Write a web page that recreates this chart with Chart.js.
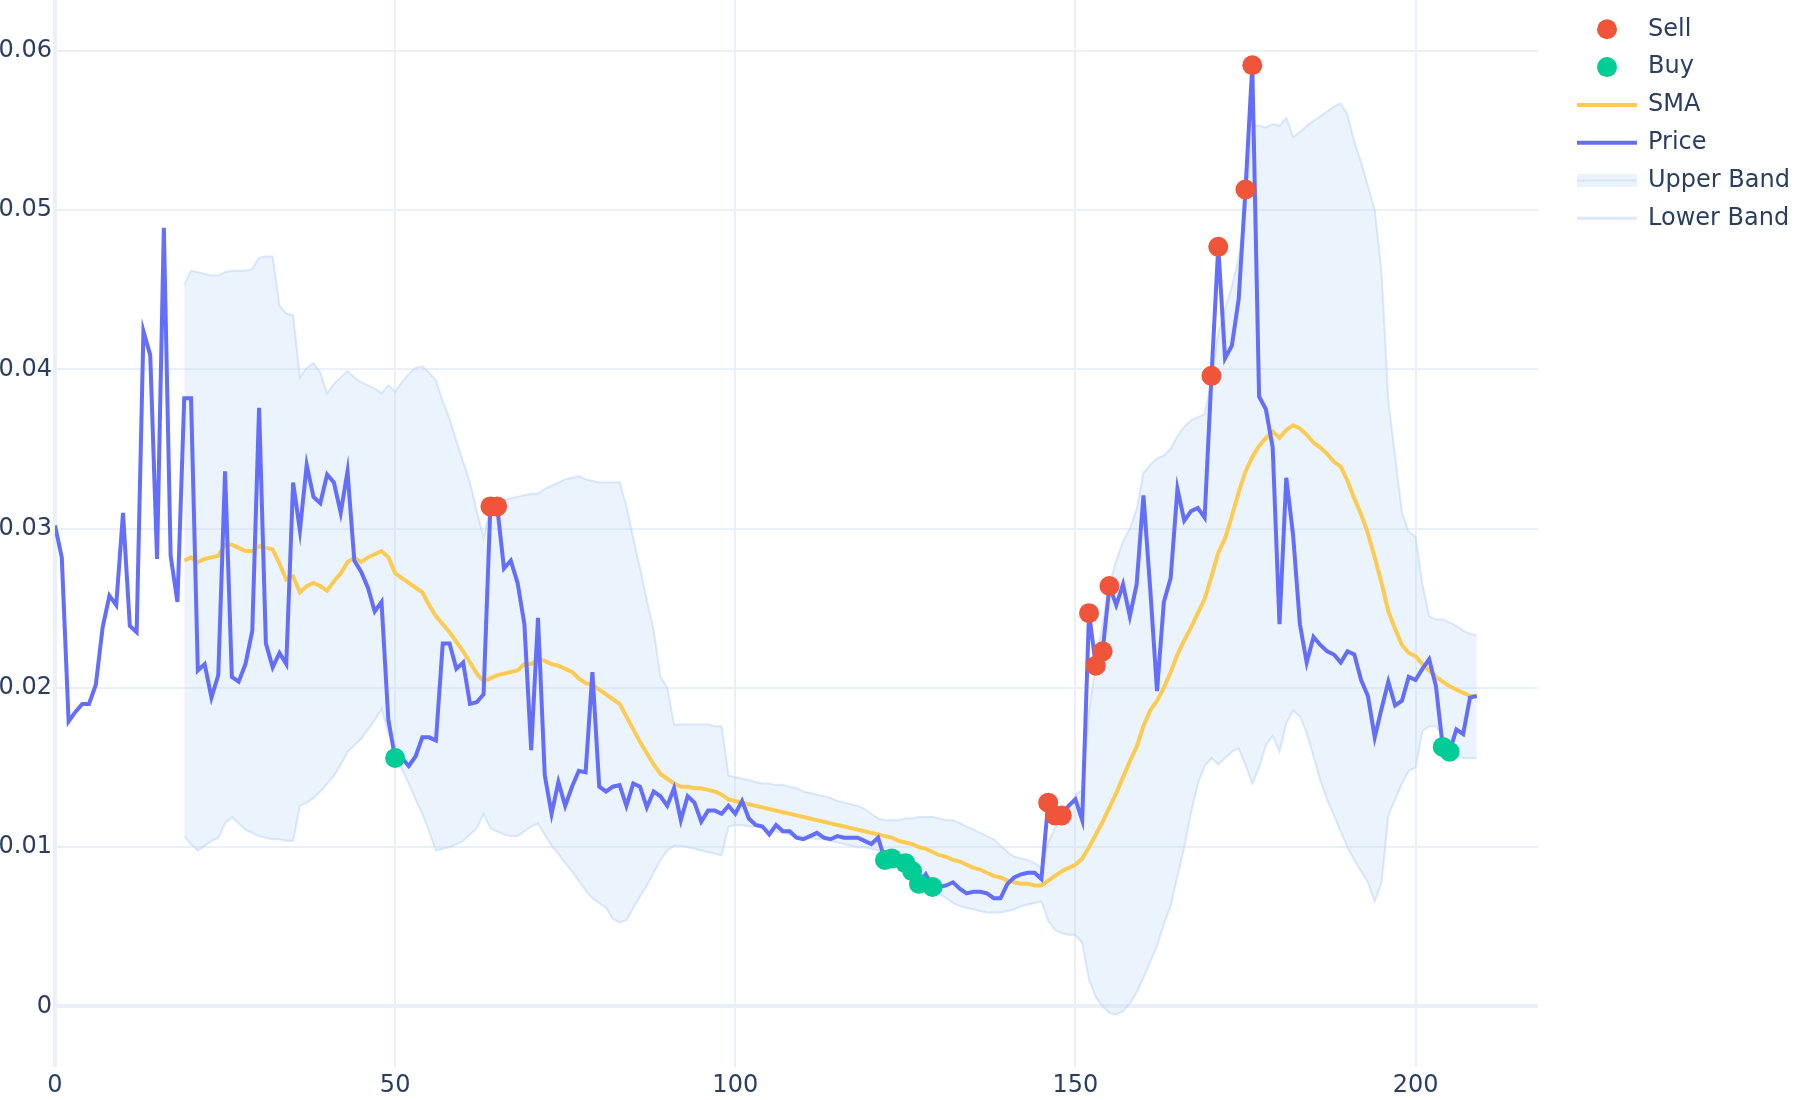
<!DOCTYPE html>
<html>
<head>
<meta charset="utf-8">
<title>Price, SMA and Bands</title>
<script src="https://cdn.jsdelivr.net/npm/chart.js@4.4.1/dist/chart.umd.min.js"></script>
<style>
  html, body { margin: 0; padding: 0; background: #ffffff; }
  #wrap { width: 1800px; height: 1100px; }
</style>
</head>
<body>
<div id="wrap"><canvas id="chart" width="1800" height="1100"></canvas></div>
<script>
// price, one value per step from step 0
const price = [
  0.0302, 0.0282, 0.0179, 0.0185, 0.0190, 0.0190, 0.0202, 0.0238, 0.0258, 0.0252,
  0.0310, 0.0239, 0.0235, 0.0424, 0.0409, 0.0281, 0.0489, 0.0283, 0.0254, 0.0382,
  0.0382, 0.0211, 0.0215, 0.0194, 0.0208, 0.0336, 0.0207, 0.0204, 0.0215, 0.0236,
  0.0376, 0.0228, 0.0213, 0.0222, 0.0215, 0.0329, 0.0299, 0.0340, 0.0320, 0.0316,
  0.0334, 0.0329, 0.0310, 0.0336, 0.0280, 0.0273, 0.0263, 0.0248, 0.0254, 0.0180,
  0.0156, 0.0156, 0.0151, 0.0157, 0.0169, 0.0169, 0.0167, 0.0228, 0.0228, 0.0212,
  0.0216, 0.0190, 0.0191, 0.0196, 0.0314, 0.0314, 0.0275, 0.0280, 0.0266, 0.0240,
  0.0161, 0.0244, 0.0145, 0.0121, 0.0141, 0.0126, 0.0138, 0.0148, 0.0147, 0.0210,
  0.0138, 0.0135, 0.0138, 0.0139, 0.0126, 0.0140, 0.0138, 0.0125, 0.0135, 0.0132,
  0.0126, 0.0137, 0.0117, 0.0132, 0.0128, 0.0116, 0.0123, 0.0123, 0.0121, 0.0126,
  0.0121, 0.0129, 0.0118, 0.0114, 0.0113, 0.0108, 0.0114, 0.0110, 0.0110, 0.0106,
  0.0105, 0.0107, 0.0109, 0.0106, 0.0105, 0.0107, 0.0106, 0.0106, 0.0106, 0.0104,
  0.0102, 0.0106, 0.0092, 0.0093, 0.0091, 0.0090, 0.0085, 0.0077, 0.0083, 0.0075,
  0.0075, 0.0076, 0.0078, 0.0074, 0.0071, 0.0072, 0.0072, 0.0071, 0.0068, 0.0068,
  0.0077, 0.0081, 0.0083, 0.0084, 0.0084, 0.0080, 0.0128, 0.0120, 0.0120, 0.0126,
  0.0130, 0.0117, 0.0247, 0.0214, 0.0223, 0.0264, 0.0252, 0.0265, 0.0245, 0.0265,
  0.0321, 0.0262, 0.0198, 0.0254, 0.0269, 0.0325, 0.0305, 0.0311, 0.0313, 0.0307,
  0.0396, 0.0477, 0.0407, 0.0415, 0.0444, 0.0513, 0.0591, 0.0383, 0.0375, 0.0351,
  0.0240, 0.0332, 0.0296, 0.0240, 0.0216, 0.0232, 0.0227, 0.0223, 0.0221, 0.0216,
  0.0223, 0.0221, 0.0205, 0.0195, 0.0169, 0.0187, 0.0204, 0.0189, 0.0192, 0.0207,
  0.0205, 0.0212, 0.0218, 0.0201, 0.0163, 0.0160, 0.0174, 0.0171, 0.0194, 0.0195
];

// moving average and bands begin at this step
const bandStart = 19;

const sma = [
  0.0280, 0.0282, 0.0279, 0.0281, 0.0282, 0.0283, 0.0290, 0.0290, 0.0288, 0.0286,
  0.0286, 0.0289, 0.0288, 0.0287, 0.0278, 0.0268, 0.0270, 0.0260, 0.0264, 0.0266,
  0.0264, 0.0261, 0.0267, 0.0272, 0.0279, 0.0282, 0.0279, 0.0282, 0.0284, 0.0286,
  0.0282, 0.0272, 0.0269, 0.0266, 0.0263, 0.0260, 0.0252, 0.0245, 0.0240, 0.0235,
  0.0229, 0.0223, 0.0216, 0.0209, 0.0204, 0.0206, 0.0208, 0.0209, 0.0210, 0.0211,
  0.0215, 0.0215, 0.0218, 0.0217, 0.0215, 0.0214, 0.0212, 0.0210, 0.0206, 0.0203,
  0.0202, 0.0199, 0.0196, 0.0193, 0.0190, 0.0182, 0.0174, 0.0166, 0.0159, 0.0152,
  0.0146, 0.0143, 0.0140, 0.0138, 0.0138, 0.0137, 0.0137, 0.0136, 0.0135, 0.0133,
  0.0130, 0.0129, 0.0128, 0.0127, 0.0126, 0.0125, 0.0124, 0.0123, 0.0122, 0.0121,
  0.0120, 0.0119, 0.0118, 0.0117, 0.0116, 0.0115, 0.0114, 0.0113, 0.0112, 0.0111,
  0.0110, 0.0109, 0.0108, 0.0107, 0.0106, 0.0104, 0.0103, 0.0102, 0.0100, 0.0099,
  0.0097, 0.0095, 0.0094, 0.0092, 0.0091, 0.0089, 0.0087, 0.0086, 0.0084, 0.0082,
  0.0081, 0.0079, 0.0078, 0.0077, 0.0077, 0.0076, 0.0076, 0.0079, 0.0082, 0.0085,
  0.0087, 0.0089, 0.0093, 0.0100, 0.0108, 0.0116, 0.0125, 0.0134, 0.0144, 0.0154,
  0.0163, 0.0176, 0.0186, 0.0192, 0.0200, 0.0210, 0.0221, 0.0230, 0.0238, 0.0247,
  0.0256, 0.0270, 0.0285, 0.0294, 0.0308, 0.0323, 0.0336, 0.0345, 0.0352, 0.0357,
  0.0361, 0.0357, 0.0362, 0.0365, 0.0363, 0.0359, 0.0354, 0.0351, 0.0347, 0.0342,
  0.0339, 0.0330, 0.0319, 0.0309, 0.0297, 0.0282, 0.0266, 0.0248, 0.0237, 0.0227,
  0.0222, 0.0220, 0.0215, 0.0211, 0.0207, 0.0204, 0.0201, 0.0199, 0.0197, 0.0195,
  0.0195
];

const upperBand = [
  0.0453, 0.0462, 0.0461, 0.0460, 0.0459, 0.0459, 0.0461, 0.0462, 0.0462, 0.0462,
  0.0463, 0.0470, 0.0471, 0.0471, 0.0440, 0.0435, 0.0434, 0.0395, 0.0401, 0.0404,
  0.0398, 0.0385, 0.0391, 0.0395, 0.0399, 0.0395, 0.0392, 0.0390, 0.0388, 0.0385,
  0.0390, 0.0386, 0.0392, 0.0397, 0.0401, 0.0402, 0.0398, 0.0393, 0.0380, 0.0369,
  0.0355, 0.0342, 0.0329, 0.0311, 0.0294, 0.0314, 0.0315, 0.0318, 0.0319, 0.0320,
  0.0321, 0.0322, 0.0322, 0.0325, 0.0327, 0.0329, 0.0331, 0.0332, 0.0333, 0.0331,
  0.0330, 0.0329, 0.0329, 0.0329, 0.0329, 0.0314, 0.0294, 0.0275, 0.0255, 0.0236,
  0.0207, 0.0200, 0.0177, 0.0177, 0.0177, 0.0177, 0.0177, 0.0177, 0.0176, 0.0176,
  0.0145, 0.0144, 0.0143, 0.0142, 0.0141, 0.0140, 0.0140, 0.0139, 0.0139, 0.0138,
  0.0137, 0.0135, 0.0134, 0.0133, 0.0132, 0.0131, 0.0129, 0.0128, 0.0127, 0.0126,
  0.0124, 0.0121, 0.0118, 0.0117, 0.0117, 0.0117, 0.0118, 0.0118, 0.0119, 0.0119,
  0.0119, 0.0118, 0.0117, 0.0117, 0.0115, 0.0113, 0.0111, 0.0109, 0.0107, 0.0105,
  0.0101, 0.0097, 0.0094, 0.0093, 0.0092, 0.0090, 0.0087, 0.0103, 0.0112, 0.0118,
  0.0125, 0.0133, 0.0136, 0.0185, 0.0215, 0.0240, 0.0265, 0.0280, 0.0292, 0.0300,
  0.0312, 0.0335, 0.0340, 0.0344, 0.0346, 0.0350, 0.0358, 0.0364, 0.0368, 0.0370,
  0.0372, 0.0393, 0.0423, 0.0438, 0.0452, 0.0470, 0.0500, 0.0553, 0.0553, 0.0552,
  0.0554, 0.0553, 0.0558, 0.0546, 0.0549, 0.0553, 0.0556, 0.0559, 0.0562, 0.0565,
  0.0567, 0.0560, 0.0543, 0.0530, 0.0515, 0.0500, 0.0461, 0.0380, 0.0345, 0.0310,
  0.0298, 0.0295, 0.0265, 0.0245, 0.0243, 0.0243, 0.0241, 0.0239, 0.0236, 0.0234,
  0.0233
];

const lowerBand = [
  0.0107, 0.0102, 0.0098, 0.0101, 0.0104, 0.0106, 0.0115, 0.0119, 0.0115, 0.0111,
  0.0109, 0.0107, 0.0106, 0.0105, 0.0105, 0.0104, 0.0104, 0.0126, 0.0128, 0.0131,
  0.0135, 0.0140, 0.0145, 0.0152, 0.0160, 0.0164, 0.0168, 0.0174, 0.0180, 0.0187,
  0.0172, 0.0157, 0.0149, 0.0140, 0.0130, 0.0121, 0.0110, 0.0098, 0.0099, 0.0100,
  0.0102, 0.0104, 0.0108, 0.0112, 0.0121, 0.0112, 0.0110, 0.0108, 0.0107, 0.0107,
  0.0110, 0.0113, 0.0115, 0.0108, 0.0101, 0.0096, 0.0090, 0.0085, 0.0079, 0.0073,
  0.0068, 0.0065, 0.0062, 0.0055, 0.0053, 0.0054, 0.0062, 0.0069, 0.0076, 0.0084,
  0.0092, 0.0098, 0.0101, 0.0101, 0.0100, 0.0099, 0.0098, 0.0097, 0.0096, 0.0095,
  0.0113, 0.0114, 0.0114, 0.0113, 0.0113, 0.0112, 0.0111, 0.0110, 0.0109, 0.0108,
  0.0107, 0.0107, 0.0106, 0.0105, 0.0105, 0.0104, 0.0103, 0.0102, 0.0101, 0.0100,
  0.0100, 0.0099, 0.0098, 0.0096, 0.0093, 0.0090, 0.0087, 0.0084, 0.0081, 0.0078,
  0.0074, 0.0071, 0.0068, 0.0065, 0.0063, 0.0062, 0.0061, 0.0060, 0.0059, 0.0059,
  0.0059, 0.0060, 0.0061, 0.0063, 0.0064, 0.0065, 0.0066, 0.0054, 0.0048, 0.0046,
  0.0045, 0.0045, 0.0040, 0.0017, 0.0006, 0.0000, -0.0004, -0.0005, -0.0003, 0.0002,
  0.0009, 0.0018, 0.0028, 0.0038, 0.0052, 0.0063, 0.0082, 0.0100, 0.0122, 0.0140,
  0.0151, 0.0156, 0.0152, 0.0156, 0.0160, 0.0162, 0.0152, 0.0140, 0.0150, 0.0164,
  0.0170, 0.0160, 0.0178, 0.0186, 0.0182, 0.0172, 0.0157, 0.0142, 0.0130, 0.0120,
  0.0110, 0.0100, 0.0092, 0.0085, 0.0078, 0.0066, 0.0078, 0.0120, 0.0130, 0.0140,
  0.0148, 0.0150, 0.0173, 0.0176, 0.0176, 0.0170, 0.0163, 0.0157, 0.0156, 0.0156,
  0.0156
];

// steps where a signal fired (marker sits on the price)
const sellSteps = [64, 65, 146, 147, 148, 152, 153, 154, 155, 170, 171, 175, 176];
const buySteps = [50, 122, 123, 125, 126, 127, 129, 204, 205];

const xTicks = [0, 50, 100, 150, 200];
const yTicks = [0, 0.01, 0.02, 0.03, 0.04, 0.05, 0.06];

const textColor = '#2a3f5f';
const gridColor = '#EBF0F8';
const bandFill = 'rgba(190, 215, 247, 0.30)';
const bandEdge = 'rgba(190, 215, 247, 0.55)';

Chart.defaults.font.family = "'DejaVu Sans', sans-serif";
Chart.defaults.font.size = 24;
Chart.defaults.color = textColor;

function series(values, start) {
  return values.map((v, i) => ({ x: start + i, y: v }));
}

function signals(steps) {
  return steps.map(s => ({ x: s, y: price[s] }));
}

// legend on the right, drawn by hand so it sits like the original
const sideLegend = {
  id: 'sideLegend',
  afterDraw(chart) {
    const ctx = chart.ctx;
    const x0 = 1577, x1 = 1637, tx = 1648;
    ctx.save();
    ctx.font = "24px 'DejaVu Sans', sans-serif";
    ctx.textBaseline = 'middle';
    chart.data.datasets.forEach((ds, i) => {
      const y = 29.3 + i * 37.8;
      if (ds.legendSymbol === 'dot') {
        ctx.fillStyle = ds.backgroundColor;
        ctx.beginPath();
        ctx.arc((x0 + x1) / 2, y, 10, 0, Math.PI * 2);
        ctx.fill();
      } else if (ds.legendSymbol === 'line') {
        ctx.strokeStyle = ds.borderColor;
        ctx.lineWidth = 4;
        ctx.beginPath();
        ctx.moveTo(x0, y);
        ctx.lineTo(x1, y);
        ctx.stroke();
      } else if (ds.legendSymbol === 'band') {
        ctx.fillStyle = ds.backgroundColor;
        ctx.fillRect(x0, y - 6.5, x1 - x0, 13);
        ctx.strokeStyle = ds.borderColor;
        ctx.lineWidth = 2;
        ctx.beginPath();
        ctx.moveTo(x0, y);
        ctx.lineTo(x1, y);
        ctx.stroke();
      } else {
        ctx.strokeStyle = ds.borderColor;
        ctx.lineWidth = 3;
        ctx.beginPath();
        ctx.moveTo(x0, y);
        ctx.lineTo(x1, y);
        ctx.stroke();
      }
      ctx.fillStyle = textColor;
      ctx.fillText(ds.label, tx, y);
    });
    ctx.restore();
  }
};

new Chart(document.getElementById('chart'), {
  type: 'line',
  data: {
    datasets: [
      {
        label: 'Sell', data: signals(sellSteps), showLine: false,
        backgroundColor: '#EF553B', borderColor: '#EF553B',
        pointRadius: 10, pointHoverRadius: 10, pointBorderWidth: 0,
        order: 0, legendSymbol: 'dot'
      },
      {
        label: 'Buy', data: signals(buySteps), showLine: false,
        backgroundColor: '#00CC96', borderColor: '#00CC96',
        pointRadius: 10, pointHoverRadius: 10, pointBorderWidth: 0,
        order: 1, legendSymbol: 'dot'
      },
      {
        label: 'SMA', data: series(sma, bandStart),
        borderColor: '#FECB52', borderWidth: 4, pointRadius: 0,
        tension: 0, fill: false, order: 3, legendSymbol: 'line'
      },
      {
        label: 'Price', data: series(price, 0),
        borderColor: '#636EFA', borderWidth: 4, pointRadius: 0,
        tension: 0, fill: false, order: 2, legendSymbol: 'line'
      },
      {
        label: 'Upper Band', data: series(upperBand, bandStart),
        borderColor: bandEdge, backgroundColor: bandFill, borderWidth: 2,
        pointRadius: 0, tension: 0, fill: '+1', order: 4, legendSymbol: 'band'
      },
      {
        label: 'Lower Band', data: series(lowerBand, bandStart),
        borderColor: bandEdge, backgroundColor: bandFill, borderWidth: 2,
        pointRadius: 0, tension: 0, fill: false, order: 5, legendSymbol: 'thin'
      }
    ]
  },
  options: {
    responsive: false,
    devicePixelRatio: 1,
    animation: false,
    events: [],
    layout: { autoPadding: false, padding: { left: 0, right: 262, top: 0, bottom: 0 } },
    plugins: {
      legend: { display: false },
      tooltip: { enabled: false }
    },
    scales: {
      x: {
        type: 'linear', min: 0, max: 218,
        afterBuildTicks: s => { s.ticks = xTicks.map(v => ({ value: v })); },
        afterFit: s => { s.height = 33; s.paddingLeft = 0; s.paddingRight = 0; },
        grid: {
          color: gridColor, drawTicks: false,
          lineWidth: c => (c.tick && c.tick.value === 0 ? 4 : 2)
        },
        border: { display: false },
        ticks: { padding: 4, maxRotation: 0, color: textColor }
      },
      y: {
        type: 'linear', min: -0.0038, max: 0.0632,
        afterBuildTicks: s => { s.ticks = yTicks.map(v => ({ value: v })); },
        afterFit: s => { s.width = 55; s.paddingTop = 0; s.paddingBottom = 0; },
        grid: {
          color: gridColor, drawTicks: false,
          lineWidth: c => (c.tick && c.tick.value === 0 ? 4 : 2)
        },
        border: { display: false },
        ticks: {
          padding: 3, color: textColor,
          callback: v => (v === 0 ? '0' : v.toFixed(2))
        }
      }
    }
  },
  plugins: [sideLegend]
});
</script>
</body>
</html>
